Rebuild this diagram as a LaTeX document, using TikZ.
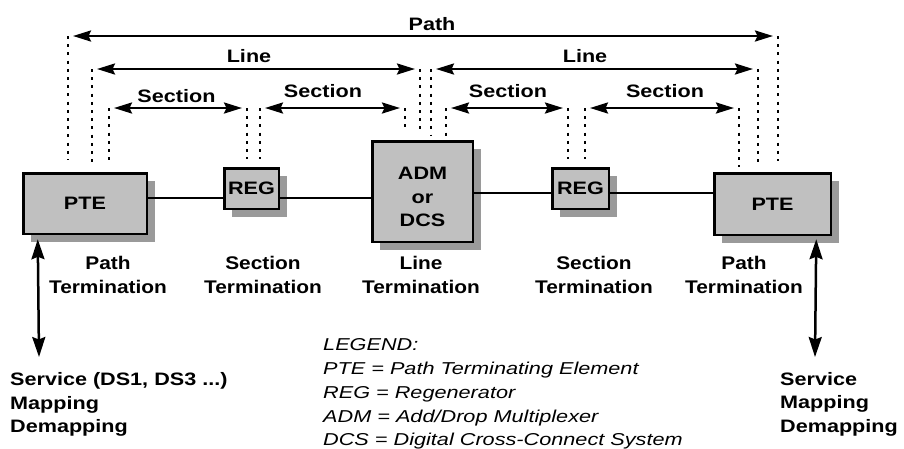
\documentclass[tikz,border=0pt]{standalone}
\usepackage{fontspec}
\usetikzlibrary{arrows.meta,shadows}
\newfontfamily\lblfont[FakeStretch=1.2]{Liberation Sans}
\newfontfamily\termfont[FakeStretch=1.14]{Liberation Sans}
\newfontfamily\legfont[FakeStretch=1.26]{Liberation Sans}
\definecolor{boxgray}{HTML}{C0C0C0}
\definecolor{shadowgray}{HTML}{9A9A9A}
\begin{document}
\begin{tikzpicture}[x=1pt,y=-1pt,
  box/.style={draw=black, line width=2.5pt, fill=boxgray, inner sep=0pt,
    drop shadow={shadow xshift=8pt, shadow yshift=-8pt, fill=shadowgray, opacity=1},
    font=\lblfont\bfseries\fontsize{18}{23.5}\selectfont},
  boxtext/.style={font=\lblfont\bfseries\fontsize{18}{23.5}\selectfont, align=center, inner sep=0pt},
  conn/.style={line width=1.6pt},
  dimarrow/.style={line width=2.6pt,
    {Stealth[length=18pt,width=11pt,inset=2.5pt]}-{Stealth[length=18pt,width=11pt,inset=2.5pt]},
    shorten <=5pt, shorten >=5pt},
  dots/.style={line width=2.9pt, dash pattern=on 2.9pt off 5.3pt, shorten >=8pt},
  varrow/.style={line width=2.5pt,
    {Stealth[length=20pt,width=13pt,inset=2.5pt]}-{Stealth[length=20pt,width=13pt,inset=2.5pt]}},
  toplbl/.style={font=\lblfont\bfseries\fontsize{18}{22}\selectfont, inner sep=0pt, anchor=base},
  termlbl/.style={font=\termfont\bfseries\fontsize{18.3}{24}\selectfont, inner sep=0pt, anchor=north, align=center},
  svc/.style={font=\lblfont\bfseries\fontsize{18}{23.5}\selectfont, inner sep=0pt, anchor=north west, align=left},
  legendtxt/.style={font=\legfont\itshape\fontsize{17.2}{23.75}\selectfont, inner sep=0pt, anchor=north west, align=left}
]
\useasboundingbox (0,0) rectangle (904,448);

% boxes
\node[box, minimum width=123.5pt, minimum height=60.5pt] (PTEL) at (85,203.5) {PTE};
\node[box, minimum width=54.5pt, minimum height=40.5pt] (REGL) at (251.5,188.5) {REG};
\node[box, minimum width=100.5pt, minimum height=100.5pt,
      label={[boxtext, yshift=-5.5pt]center:{ADM\\or\\DCS}}] (ADM) at (422.5,191.5) {};
\node[box, minimum width=56.5pt, minimum height=40.5pt] (REGR) at (580.5,188.5) {REG};
\node[box, minimum width=116.5pt, minimum height=61.5pt] (PTER) at (772.5,204) {PTE};

% connections
\coordinate (yL) at (0,198);
\coordinate (yR) at (0,193);
\draw[conn] (PTEL.east |- yL) -- (REGL.west |- yL);
\draw[conn] (REGL.east |- yL) -- (ADM.west |- yL);
\draw[conn] (ADM.east |- yR) -- (REGR.west |- yR);
\draw[conn] (REGR.east |- yR) -- (PTER.west |- yR);

% dimension end points
\coordinate (pathL) at (68,36);
\coordinate (pathR) at (778,36);
\coordinate (lineLa) at (92,69);
\coordinate (lineLb) at (420,69);
\coordinate (lineRa) at (431,69);
\coordinate (lineRb) at (758,69);
\coordinate (s1a) at (109,108);
\coordinate (s1b) at (247,108);
\coordinate (s2a) at (260,108);
\coordinate (s2b) at (405,108);
\coordinate (s3a) at (446,108);
\coordinate (s3b) at (568,108);
\coordinate (s4a) at (585,108);
\coordinate (s4b) at (739,108);

% dimension arrows
\draw[dimarrow] (pathL) -- (pathR);
\draw[dimarrow] (lineLa) -- (lineLb);
\draw[dimarrow] (lineRa) -- (lineRb);
\draw[dimarrow] (s1a) -- (s1b);
\draw[dimarrow] (s2a) -- (s2b);
\draw[dimarrow] (s3a) -- (s3b);
\draw[dimarrow] (s4a) -- (s4b);

% dotted drop lines
\draw[dots, shorten >=12pt] (pathL) -- (pathL |- PTEL.north);
\draw[dots] (lineLa) -- (lineLa |- PTEL.north);
\draw[dots, shorten >=10pt] (s1a) -- (s1a |- PTEL.north);
\draw[dots] (s1b) -- (s1b |- REGL.north);
\draw[dots] (s2a) -- (s2a |- REGL.north);
\draw[dots, shorten >=10pt] (s2b) -- (s2b |- ADM.north);
\draw[dots] (lineLb) -- (lineLb |- ADM.north);
\draw[dots, shorten >=4pt] (lineRa) -- (lineRa |- ADM.north);
\draw[dots, shorten >=4pt] (s3a) -- (s3a |- ADM.north);
\draw[dots] (s3b) -- (s3b |- REGR.north);
\draw[dots] (s4a) -- (s4a |- REGR.north);
\draw[dots, shorten >=5pt] (s4b) -- (s4b |- PTER.north);
\draw[dots] (lineRb) -- (lineRb |- PTER.north);
\draw[dots, shorten >=11pt] (pathR) -- (pathR |- PTER.north);

% top labels
\node[toplbl] (tPath) at (432,30) {Path};
\node[toplbl] (tLineL) at (249,62) {Line};
\node[toplbl] (tLineR) at (585,62) {Line};
\node[toplbl] (tS1) at (176.5,102) {Section};
\node[toplbl] (tS2) at (323,97) {Section};
\node[toplbl] (tS3) at (508,97) {Section};
\node[toplbl] (tS4) at (665,97) {Section};

% termination labels
\node[termlbl] (termA) at (108,256) {Path\\Termination};
\node[termlbl] (termB) at (263,256) {Section\\Termination};
\node[termlbl] (termC) at (421,256) {Line\\Termination};
\node[termlbl] (termD) at (594,256) {Section\\Termination};
\node[termlbl] (termE) at (744,256) {Path\\Termination};

% service texts
\node[svc] (svcL) at (10,372.7) {Service (DS1, DS3 ...)\\Mapping\\Demapping};
\node[svc] (svcR) at (780,372) {Service\\Mapping\\Demapping};

% service arrows
\draw[varrow] ([xshift=15.75pt,yshift=-4.25pt]PTEL.south west) -- ([xshift=29pt,yshift=15.7pt]svcL.north west);
\draw[varrow] ([xshift=-15.75pt,yshift=-3.25pt]PTER.south east) -- ([xshift=35pt,yshift=15pt]svcR.north west);

% legend
\node[legendtxt] (legend) at (323,338.7) {LEGEND:\\PTE = Path Terminating Element\\REG = Regenerator\\ADM = Add/Drop Multiplexer\\DCS = Digital Cross-Connect System};
\end{tikzpicture}
\end{document}
